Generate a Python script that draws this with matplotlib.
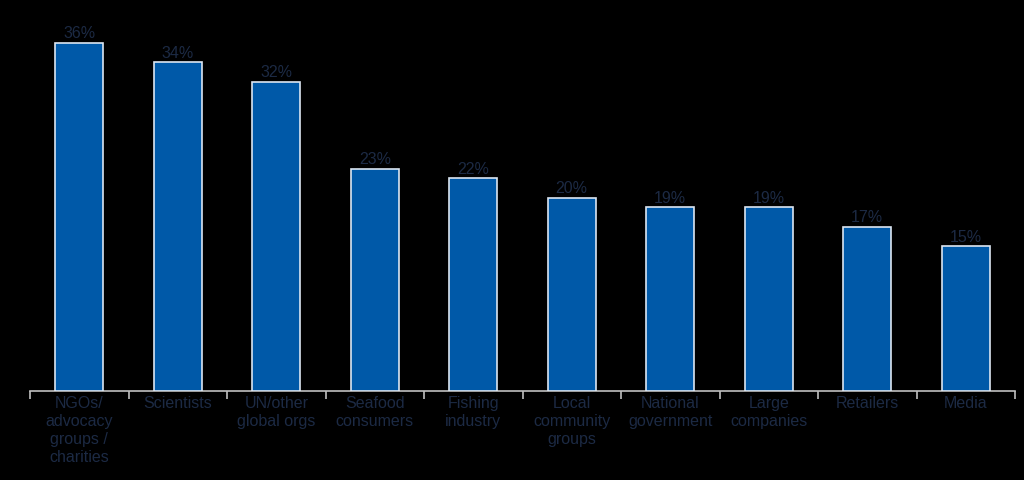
import matplotlib.pyplot as plt
import numpy as np

categories = ["NGOs/\nadvocacy\ngroups /\ncharities", "Scientists", "UN/other\nglobal orgs",
              "Seafood\nconsumers", "Fishing\nindustry", "Local\ncommunity\ngroups",
              "National\ngovernment", "Large\ncompanies", "Retailers", "Media"]
values = [36, 34, 32, 23, 22, 20, 19, 19, 17, 15]

text_col = "#1c2a44"
bar_col = "#0059a8"

plt.rcParams['font.family'] = ['Liberation Sans', 'DejaVu Sans']

fig = plt.figure(figsize=(10.24, 4.81), dpi=100, facecolor="black")
ax = fig.add_axes([30/1024, (481-392)/481, 985/1024, 382/481])
ax.set_facecolor("black")

x = np.arange(len(values))
bars = ax.bar(x, values, width=0.49, color=bar_col, edgecolor="#dce6f2", linewidth=1.2, zorder=3)
for xi, v in zip(x, values):
    ax.text(xi, v + 0.25, f"{v}%", ha="center", va="bottom", color=text_col, fontsize=11.5)

ax.set_xlim(-0.5, len(values) - 0.5)
ax.set_ylim(0, 39.5)
ax.set_yticks([])
for s in ["top", "right", "left"]:
    ax.spines[s].set_visible(False)
ax.spines["bottom"].set_color("#bfbfbf")
ax.spines["bottom"].set_linewidth(1.2)

ax.set_xticks(x)
ax.set_xticklabels(categories, color=text_col, fontsize=11.5, linespacing=1.25, va="top")
ax.tick_params(axis="x", which="major", length=0, pad=3)
ax.set_xticks(np.arange(-0.5, len(values)), minor=True)
ax.tick_params(axis="x", which="minor", length=6, color="#bfbfbf", width=1.2, direction="out")

fig.savefig("out.png", dpi=100, facecolor="black")
